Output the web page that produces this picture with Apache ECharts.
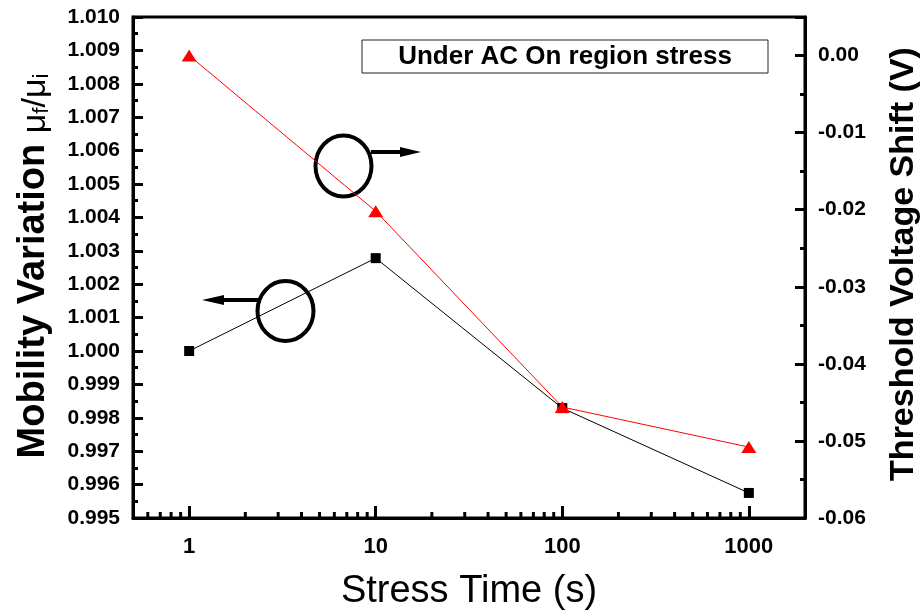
<!DOCTYPE html>
<html lang="en">
<head>
    <meta charset="UTF-8">
    <title>Mobility / Vth shift</title>
    <script src="https://cdn.jsdelivr.net/npm/echarts@6/dist/echarts.min.js"></script>
    <style>
        html, body { margin: 0; padding: 0; background: #fff; }
        #main { width: 920px; height: 616px; }
    </style>
</head>
<body>
    <div id="main"></div>
<script>
    // stress time (s)
    var stressTime = [1, 10, 100, 1000];
    // mobility variation mu_f / mu_i  (left axis)
    var mobility = [1.0000, 1.00278, 0.99829, 0.99575];
    // threshold voltage shift (V)  (right axis)
    var vthShift = [0.0000, -0.0202, -0.0456, -0.0508];
    // log minor tick positions on the time axis
    var minorTimeTicks = [0.6, 0.7, 0.8, 0.9,
        2, 3, 4, 5, 6, 7, 8, 9,
        20, 30, 40, 50, 60, 70, 80, 90,
        200, 300, 400, 500, 600, 700, 800, 900];

    var boldFont = 'Liberation Sans, Arial, sans-serif';

    var myChart = echarts.init(document.getElementById('main'));

    var option = {
        animation: false,
        grid: {
            left: 133, top: 17, right: 115, bottom: 96,
            show: true,
            borderColor: '#000',
            borderWidth: 3
        },
        xAxis: {
            type: 'log',
            logBase: 10,
            min: 0.5,
            max: 2000,
            splitLine: { show: false },
            axisLine: { onZero: false, lineStyle: { color: '#000', width: 3 } },
            axisTick: { inside: true, length: 12, lineStyle: { color: '#000', width: 3 } },
            axisLabel: {
                showMinLabel: false,
                showMaxLabel: false,
                margin: 18,
                color: '#000',
                fontSize: 22,
                fontWeight: 'bold',
                fontFamily: boldFont,
                formatter: function (v) { return String(Math.round(v)); }
            },
            name: 'Stress Time (s)',
            nameLocation: 'middle',
            nameGap: 55,
            nameTextStyle: { fontSize: 38, color: '#000', fontFamily: boldFont }
        },
        yAxis: [{
            type: 'value',
            min: 0.995,
            max: 1.010,
            interval: 0.001,
            splitLine: { show: false },
            axisLine: { lineStyle: { color: '#000', width: 3 } },
            axisTick: { inside: true, length: 10, lineStyle: { color: '#000', width: 3 } },
            minorTick: { show: true, splitNumber: 2, length: 5, lineStyle: { color: '#000', width: 3 } },
            axisLabel: {
                margin: 13,
                color: '#000',
                fontSize: 21,
                fontWeight: 'bold',
                fontFamily: boldFont,
                formatter: function (v) { return v.toFixed(3); }
            }
        }, {
            type: 'value',
            position: 'right',
            min: -0.06,
            max: 0.005,
            interval: 0.01,
            splitLine: { show: false },
            axisLine: { lineStyle: { color: '#000', width: 3 } },
            axisTick: { inside: true, length: 10, lineStyle: { color: '#000', width: 3 } },
            minorTick: { show: true, splitNumber: 2, length: 5, lineStyle: { color: '#000', width: 3 } },
            axisLabel: {
                showMaxLabel: false,
                margin: 13,
                color: '#000',
                fontSize: 21,
                fontWeight: 'bold',
                fontFamily: boldFont,
                formatter: function (v) {
                    if (Math.abs(v) < 1e-9) return '0.00';
                    return v.toFixed(2);
                }
            }
        }],
        series: [{
            name: 'mobility',
            type: 'line',
            yAxisIndex: 0,
            data: stressTime.map(function (t, i) { return [t, mobility[i]]; }),
            symbol: 'rect',
            symbolSize: 10,
            itemStyle: { color: '#000' },
            lineStyle: { color: '#000', width: 1 }
        }, {
            name: 'vth',
            type: 'line',
            yAxisIndex: 1,
            data: stressTime.map(function (t, i) { return [t, vthShift[i]]; }),
            symbol: 'triangle',
            symbolSize: [15, 12],
            itemStyle: { color: '#ff0000' },
            lineStyle: { color: '#ff0000', width: 1 }
        }, {
            // minor ticks of the log time axis
            type: 'custom',
            yAxisIndex: 0,
            silent: true,
            clip: false,
            data: minorTimeTicks.map(function (t) { return [t, 0.995]; }),
            renderItem: function (params, api) {
                var p = api.coord([api.value(0), api.value(1)]);
                return {
                    type: 'line',
                    shape: { x1: p[0], y1: p[1], x2: p[0], y2: p[1] - 6 },
                    style: { stroke: '#000', lineWidth: 3 }
                };
            }
        }],
        graphic: [
            // label box
            {
                type: 'rect',
                shape: { x: 362, y: 40, width: 406, height: 33 },
                style: { fill: '#fff', stroke: '#222', lineWidth: 1 }
            },
            {
                type: 'text',
                x: 565, y: 57,
                style: {
                    text: 'Under AC On region stress',
                    fontSize: 26, fontWeight: 'bold', fontFamily: boldFont,
                    fill: '#000', align: 'center', verticalAlign: 'middle'
                }
            },
            // left axis title
            {
                type: 'text',
                x: 33, y: 266,
                rotation: Math.PI / 2,
                style: {
                    text: '{a|Mobility Variation }{m|μ}{s|f}{m|/μ}{s|i}',
                    align: 'center', verticalAlign: 'middle',
                    fill: '#000',
                    rich: {
                        a: { fontSize: 38, fontWeight: 'bold', fontFamily: boldFont, lineHeight: 40, verticalAlign: 'bottom' },
                        m: { fontSize: 34, fontFamily: boldFont, lineHeight: 40, verticalAlign: 'bottom' },
                        s: { fontSize: 22, fontFamily: boldFont, lineHeight: 6, verticalAlign: 'bottom' }
                    }
                }
            },
            // right axis title
            {
                type: 'text',
                x: 904, y: 264,
                rotation: Math.PI / 2,
                style: {
                    text: 'Threshold Voltage Shift (V)',
                    fontSize: 34, fontWeight: 'bold', fontFamily: boldFont,
                    fill: '#000', align: 'center', verticalAlign: 'middle'
                }
            },
            // upper marker: circle with arrow pointing right
            {
                type: 'ellipse',
                shape: { cx: 343.5, cy: 166, rx: 28, ry: 30.5 },
                style: { fill: 'none', stroke: '#000', lineWidth: 4 }
            },
            {
                type: 'line',
                shape: { x1: 371, y1: 152, x2: 404, y2: 152 },
                style: { stroke: '#000', lineWidth: 4 }
            },
            {
                type: 'polygon',
                shape: { points: [[400, 147], [421, 152], [400, 157]] },
                style: { fill: '#000' }
            },
            // lower marker: circle with arrow pointing left
            {
                type: 'ellipse',
                shape: { cx: 285.5, cy: 311, rx: 28, ry: 30 },
                style: { fill: 'none', stroke: '#000', lineWidth: 4 }
            },
            {
                type: 'line',
                shape: { x1: 258, y1: 300, x2: 220, y2: 300 },
                style: { stroke: '#000', lineWidth: 4 }
            },
            {
                type: 'polygon',
                shape: { points: [[224, 295], [202, 300], [224, 305]] },
                style: { fill: '#000' }
            }
        ]
    };

    myChart.setOption(option);

    window.onresize = function () {
        myChart.resize();
    };
</script>
</body>
</html>
